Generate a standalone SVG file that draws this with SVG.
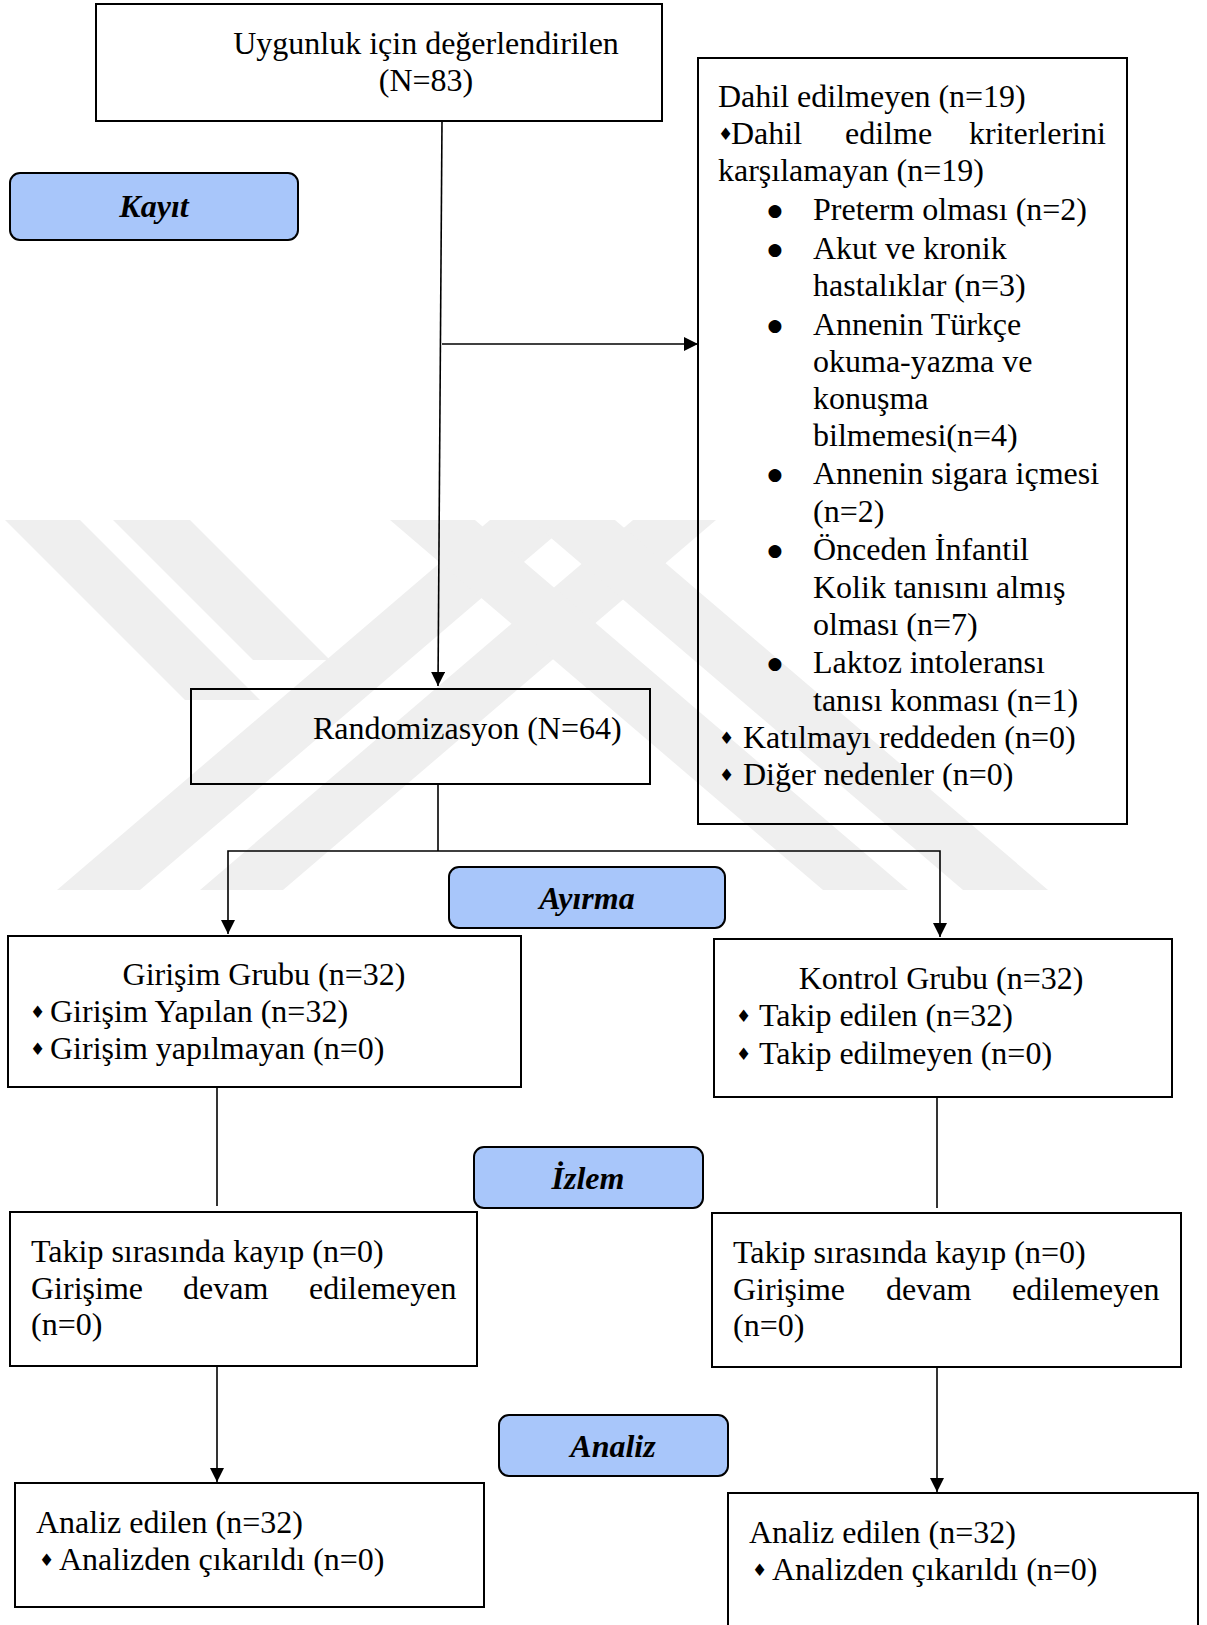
<svg xmlns="http://www.w3.org/2000/svg" width="1207" height="1625" viewBox="0 0 1207 1625">
<defs>
<style>
.t{font-family:"Liberation Serif","Times New Roman",serif;font-size:32px;fill:#000}
.bu{font-family:"DejaVu Sans",sans-serif;font-size:17px;fill:#000;text-anchor:middle}
.lbl{font-family:"Liberation Serif","Times New Roman",serif;font-size:32px;font-weight:bold;font-style:italic;fill:#000;text-anchor:middle}
.dm{font-family:"DejaVu Sans",sans-serif;font-size:17px;fill:#000}
.box{fill:none;stroke:#000;stroke-width:2}
.lb{fill:#a8c6fa;stroke:#000;stroke-width:2}
.c{fill:none;stroke:#000;stroke-width:1.6}
.wm{fill:#efefef}
</style>
<marker id="ah" markerUnits="userSpaceOnUse" markerWidth="14" markerHeight="18" refX="14" refY="7" orient="auto">
<path d="M0,0 L14,7 L0,14 Z" fill="#000"/>
</marker>
</defs>
<rect width="1207" height="1625" fill="#fff"/>
<g id="watermark">
<polygon class="wm" points="5,520 80,520 260,700 185,700"/>
<polygon class="wm" points="113,520 190,520 330,660 253,660"/>
<polygon class="wm" points="57,890 140,890 573,520 490,520"/>
<polygon class="wm" points="200,890 283,890 716,520 633,520"/>
<polygon class="wm" points="390,520 475,520 908,890 823,890"/>
<polygon class="wm" points="530,520 615,520 1048,890 963,890"/>
</g>
<g id="connectors">
<path class="c" d="M442,121 L438,686" marker-end="url(#ah)"/>
<path class="c" d="M442,344 L698,344" marker-end="url(#ah)"/>
<path class="c" d="M438,784 L438,851"/>
<path class="c" d="M438,851 H228 V934" marker-end="url(#ah)"/>
<path class="c" d="M438,851 H940 V937" marker-end="url(#ah)"/>
<path class="c" d="M217,1087 V1206"/>
<path class="c" d="M937,1097 V1208"/>
<path class="c" d="M217,1366 V1482" marker-end="url(#ah)"/>
<path class="c" d="M937,1367 V1492" marker-end="url(#ah)"/>
</g>
<g id="n-eligible">
<rect class="box" x="96" y="4" width="566" height="117"/>
<text class="t" x="426" y="54" text-anchor="middle">Uygunluk için değerlendirilen</text>
<text class="t" x="426" y="91" text-anchor="middle">(N=83)</text>
</g>
<g id="n-kayit">
<rect class="lb" x="10" y="173" width="288" height="67" rx="10"/>
<text class="lbl" x="154" y="217">Kayıt</text>
</g>
<g id="n-excluded">
<rect class="box" x="698" y="58" width="429" height="766"/>
<text class="t" x="718" y="107">Dahil edilmeyen (n=19)</text>
<text class="dm" x="718" y="140">♦</text>
<text class="t" x="731" y="144">Dahil</text>
<text class="t" x="845" y="144">edilme</text>
<text class="t" x="969" y="144">kriterlerini</text>
<text class="t" x="718" y="181">karşılamayan (n=19)</text>
<text class="bu" x="775" y="216">●</text>
<text class="bu" x="775" y="255">●</text>
<text class="bu" x="775" y="331">●</text>
<text class="bu" x="775" y="480">●</text>
<text class="bu" x="775" y="556">●</text>
<text class="bu" x="775" y="669">●</text>
<text class="t" x="813" y="220">Preterm olması (n=2)</text>
<text class="t" x="813" y="259">Akut ve kronik</text>
<text class="t" x="813" y="296">hastalıklar (n=3)</text>
<text class="t" x="813" y="335">Annenin Türkçe</text>
<text class="t" x="813" y="372">okuma-yazma ve</text>
<text class="t" x="813" y="409">konuşma</text>
<text class="t" x="813" y="446">bilmemesi(n=4)</text>
<text class="t" x="813" y="484">Annenin sigara içmesi</text>
<text class="t" x="813" y="522">(n=2)</text>
<text class="t" x="813" y="560">Önceden İnfantil</text>
<text class="t" x="813" y="598">Kolik tanısını almış</text>
<text class="t" x="813" y="635">olması (n=7)</text>
<text class="t" x="813" y="673">Laktoz intoleransı</text>
<text class="t" x="813" y="711">tanısı konması (n=1)</text>
<text class="dm" x="719" y="744">♦</text>
<text class="t" x="743" y="748">Katılmayı reddeden (n=0)</text>
<text class="dm" x="719" y="781">♦</text>
<text class="t" x="743" y="785">Diğer nedenler (n=0)</text>
</g>
<g id="n-random">
<rect class="box" x="191" y="689" width="459" height="95"/>
<text class="t" x="313" y="739">Randomizasyon (N=64)</text>
</g>
<g id="n-ayirma">
<rect class="lb" x="449" y="867" width="276" height="61" rx="10"/>
<text class="lbl" x="587" y="909">Ayırma</text>
</g>
<g id="n-girisim">
<rect class="box" x="8" y="936" width="513" height="151"/>
<text class="t" x="264" y="985" text-anchor="middle">Girişim Grubu (n=32)</text>
<text class="dm" x="30" y="1018">♦</text>
<text class="t" x="50" y="1022">Girişim Yapılan (n=32)</text>
<text class="dm" x="30" y="1055">♦</text>
<text class="t" x="50" y="1059">Girişim yapılmayan (n=0)</text>
</g>
<g id="n-kontrol">
<rect class="box" x="714" y="939" width="458" height="158"/>
<text class="t" x="941" y="989" text-anchor="middle">Kontrol Grubu (n=32)</text>
<text class="dm" x="736" y="1022">♦</text>
<text class="t" x="759" y="1026">Takip edilen (n=32)</text>
<text class="dm" x="736" y="1060">♦</text>
<text class="t" x="759" y="1064">Takip edilmeyen (n=0)</text>
</g>
<g id="n-izlem">
<rect class="lb" x="474" y="1147" width="229" height="61" rx="10"/>
<text class="lbl" x="588" y="1189">İzlem</text>
</g>
<g id="n-takip-left">
<rect class="box" x="10" y="1212" width="467" height="154"/>
<text class="t" x="31" y="1262">Takip sırasında kayıp (n=0)</text>
<text class="t" x="31" y="1299">Girişime</text>
<text class="t" x="183" y="1299">devam</text>
<text class="t" x="309" y="1299">edilemeyen</text>
<text class="t" x="31" y="1335">(n=0)</text>
</g>
<g id="n-takip-right">
<rect class="box" x="712" y="1213" width="469" height="154"/>
<text class="t" x="733" y="1263">Takip sırasında kayıp (n=0)</text>
<text class="t" x="733" y="1300">Girişime</text>
<text class="t" x="886" y="1300">devam</text>
<text class="t" x="1012" y="1300">edilemeyen</text>
<text class="t" x="733" y="1336">(n=0)</text>
</g>
<g id="n-analiz">
<rect class="lb" x="499" y="1415" width="229" height="61" rx="10"/>
<text class="lbl" x="613" y="1457">Analiz</text>
</g>
<g id="n-analiz-left">
<rect class="box" x="15" y="1483" width="469" height="124"/>
<text class="t" x="36" y="1533">Analiz edilen (n=32)</text>
<text class="dm" x="39" y="1566">♦</text>
<text class="t" x="59" y="1570">Analizden çıkarıldı (n=0)</text>
</g>
<g id="n-analiz-right">
<rect class="box" x="728" y="1493" width="470" height="150"/>
<text class="t" x="749" y="1543">Analiz edilen (n=32)</text>
<text class="dm" x="752" y="1576">♦</text>
<text class="t" x="772" y="1580">Analizden çıkarıldı (n=0)</text>
</g>
</svg>
